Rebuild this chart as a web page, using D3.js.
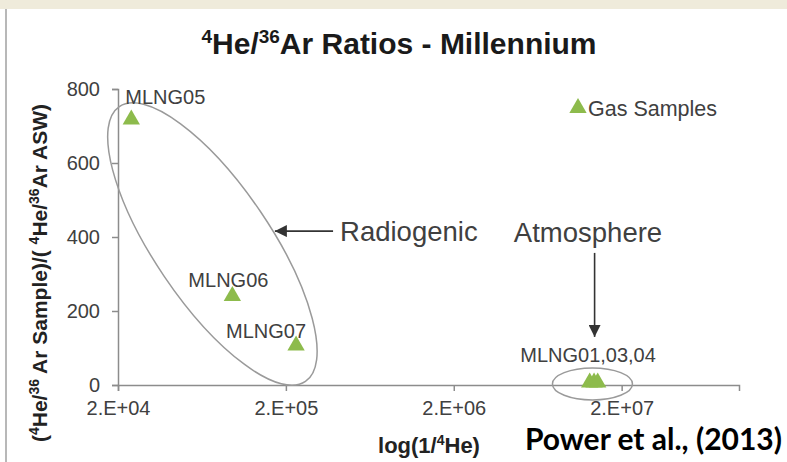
<!DOCTYPE html>
<html><head><meta charset="utf-8">
<script src="https://cdn.jsdelivr.net/npm/d3@7"></script>
<style>
body{margin:0;background:#fff;}
svg{display:block;font-family:"Liberation Sans",Arial,sans-serif;}
</style>
</head><body><svg id="c" width="787" height="462"></svg>
<script>
// ---- data ----
const samples = ["MLNG05","MLNG06","MLNG07","MLNG01","MLNG03","MLNG04"];
const invHe   = [2.4e4, 9.6e4, 2.3e5, 1.29e7, 1.37e7, 1.44e7];
const ratio   = [715, 238, 104, 4, 4, 4];
const labelTexts = ["MLNG05","MLNG06","MLNG07","MLNG01,03,04"];
const labelAt    = [[2.4e4,715],[9.6e4,238],[2.3e5,104],[1.37e7,4]];
const xTicks = [2e4, 2e5, 2e6, 2e7];
const xTickLabels = ["2.E+04","2.E+05","2.E+06","2.E+07"];
const yTicks = [0, 200, 400, 600, 800];
const yTickLabels = ["0","200","400","600","800"];
const xDomain = [2e4, 1e8];
const yDomain = [0, 800];
// annotation anchors (data space)
const radioEllipse = {x: 7.3e4, y: 381};
const atmoEllipse  = {x: 1.34e7, y: 3};
const radioArrow = {x1: 3.82e5, x2: 1.72e5, y: 416};
const atmoArrow  = {x: 1.38e7, y1: 357, y2: 130};

// ---- layout ----
const svg = d3.select("#c");
const W = 787, H = 462;
const x = d3.scaleLog().domain(xDomain).range([118, 739]);
const y = d3.scaleLinear().domain(yDomain).range([385, 89]);
const axisCol = "#8c8c8c", textCol = "#404040", green = "#8dbb4c";

svg.append("rect").attr("width", W).attr("height", H).attr("fill", "#fff");
svg.append("rect").attr("width", W).attr("height", 9).attr("fill", "#efebdb");
svg.append("line").attr("x1", 6).attr("x2", 6).attr("y1", 9).attr("y2", H)
  .attr("stroke", "#b8b8b8").attr("stroke-width", 2);

const defs = svg.append("defs");
defs.append("marker").attr("id", "ah").attr("viewBox", "0 0 10 10")
  .attr("refX", 10).attr("refY", 5).attr("markerWidth", 12).attr("markerHeight", 12)
  .attr("markerUnits", "userSpaceOnUse").attr("orient", "auto")
  .append("path").attr("d", "M0,0 L10,5 L0,10 Z").attr("fill", "#333");

// title
const t = svg.append("text").attr("x", 399).attr("y", 54).attr("text-anchor", "middle")
  .attr("font-weight", "bold").attr("font-size", 30).attr("fill", "#1a1a1a");
t.append("tspan").attr("font-size", 19).attr("dy", -11).text("4");
t.append("tspan").attr("dy", 11).text("He/");
t.append("tspan").attr("font-size", 19).attr("dy", -11).text("36");
t.append("tspan").attr("dy", 11).text("Ar Ratios - Millennium");

// axes
const xAxis = d3.axisBottom(x).tickValues(xTicks)
  .tickFormat((d, i) => xTickLabels[i]).tickSizeOuter(0).tickSize(6).tickPadding(10);
const gx = svg.append("g").attr("transform", `translate(0,${y(0)})`).call(xAxis);
const yAxis = d3.axisLeft(y).tickValues(yTicks)
  .tickFormat((d, i) => yTickLabels[i]).tickSizeOuter(0).tickSize(6).tickPadding(12);
const gy = svg.append("g").attr("transform", `translate(${x(2e4)},0)`).call(yAxis);
[gx, gy].forEach(g => {
  g.select(".domain").attr("stroke", axisCol).attr("stroke-width", 1.5);
  g.selectAll(".tick line").attr("stroke", axisCol).attr("stroke-width", 1.5);
  g.selectAll(".tick text").attr("font-size", 20).attr("fill", textCol)
    .attr("font-family", "Liberation Sans, Arial, sans-serif");
});

// axis titles
const xt = svg.append("text").attr("x", 429).attr("y", 453).attr("text-anchor", "middle")
  .attr("font-weight", "bold").attr("font-size", 22).attr("fill", "#222");
xt.append("tspan").text("log(1/");
xt.append("tspan").attr("font-size", 14).attr("dy", -8).text("4");
xt.append("tspan").attr("dy", 8).text("He)");

const yt = svg.append("text").attr("transform", "translate(47,273) rotate(-90)")
  .attr("text-anchor", "middle").attr("font-weight", "bold").attr("font-size", 21).attr("fill", "#222");
const sup = (s) => { yt.append("tspan").attr("font-size", 14).attr("dy", -8).text(s); };
const nor = (s) => { yt.append("tspan").attr("dy", 8).text(s); };
yt.append("tspan").text("(");
sup("4"); nor("He/"); sup("36"); nor(" Ar Sample)/( "); sup("4"); nor("He/"); sup("36"); nor("Ar  ASW)");

// ellipses
svg.append("ellipse")
  .attr("transform", `translate(${x(radioEllipse.x)},${y(radioEllipse.y)}) rotate(55.9)`)
  .attr("rx", 166).attr("ry", 58).attr("fill", "none").attr("stroke", "#9a9a9a").attr("stroke-width", 1.5);
svg.append("ellipse")
  .attr("cx", x(atmoEllipse.x)).attr("cy", y(atmoEllipse.y))
  .attr("rx", 40).attr("ry", 16).attr("fill", "none").attr("stroke", "#9a9a9a").attr("stroke-width", 1.5);

// arrows
svg.append("line").attr("x1", x(radioArrow.x1)).attr("x2", x(radioArrow.x2))
  .attr("y1", y(radioArrow.y)).attr("y2", y(radioArrow.y))
  .attr("stroke", "#333").attr("stroke-width", 1.6).attr("marker-end", "url(#ah)");
svg.append("line").attr("x1", x(atmoArrow.x)).attr("x2", x(atmoArrow.x))
  .attr("y1", y(atmoArrow.y1)).attr("y2", y(atmoArrow.y2))
  .attr("stroke", "#333").attr("stroke-width", 1.6).attr("marker-end", "url(#ah)");

svg.append("text").attr("x", x(radioArrow.x1) + 7).attr("y", y(radioArrow.y) + 10)
  .attr("font-size", 27.5).attr("fill", textCol).text("Radiogenic");
svg.append("text").attr("x", 588).attr("y", 242).attr("text-anchor", "middle")
  .attr("font-size", 27.5).attr("fill", textCol).text("Atmosphere");

// points
const tri = d3.symbol().type(d3.symbolTriangle).size(130);
svg.append("g").selectAll("path").data(samples.map((s, i) => ({s, x: invHe[i], y: ratio[i]})))
  .join("path").attr("d", tri)
  .attr("transform", d => `translate(${x(d.x)},${y(d.y) - 1})`)
  .attr("fill", green);

// point labels
const labOff = [[34, -16], [-4, -10], [-30, -9], [-6, -22]];
svg.append("g").selectAll("text").data(labelTexts).join("text")
  .attr("x", (d, i) => x(labelAt[i][0]) + labOff[i][0])
  .attr("y", (d, i) => y(labelAt[i][1]) + labOff[i][1])
  .attr("text-anchor", "middle").attr("font-size", 20).attr("fill", textCol).text(d => d);

// legend
svg.append("path").attr("d", tri).attr("transform", "translate(578,108)").attr("fill", green);
svg.append("text").attr("x", 588).attr("y", 116).attr("font-size", 21.5).attr("fill", textCol).text("Gas Samples");

// citation
svg.append("text").attr("x", 782).attr("y", 450).attr("text-anchor", "end")
  .attr("font-weight", "bold").attr("font-size", 30).attr("fill", "#000")
  .attr("font-family", "Lato, 'Liberation Sans', sans-serif").text("Power et al., (2013)");
</script></body></html>
